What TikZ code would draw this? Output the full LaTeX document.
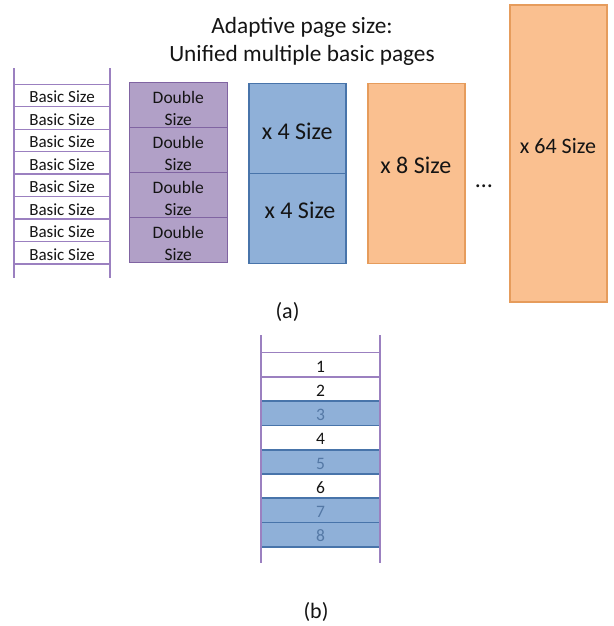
\documentclass[tikz,border=0pt]{standalone}
\usepackage{fontspec}
\setmainfont{Carlito}
\definecolor{plin}{RGB}{155,128,192}
\definecolor{pfill}{RGB}{177,160,199}
\definecolor{pdraw}{RGB}{128,100,162}
\definecolor{bfill}{RGB}{143,176,216}
\definecolor{bdraw}{RGB}{72,116,170}
\definecolor{ofill}{RGB}{250,192,144}
\definecolor{odraw}{RGB}{230,156,92}
\definecolor{bnum}{RGB}{84,120,165}
\definecolor{tx}{RGB}{20,20,20}
\tikzset{
  basicrow/.style={draw=plin, line width=1.4pt, inner sep=0pt, minimum width=96pt, minimum height=22.46pt, text height=15pt, font=\fontsize{17}{20}\selectfont, text=tx},
  dblbox/.style={draw=pdraw, fill=pfill, line width=1.2pt, inner sep=0pt, minimum width=98pt, minimum height=45pt},
  dbltxt/.style={align=center, inner sep=0pt, font=\fontsize{17.5}{21.7}\selectfont, text=tx},
  bluebox/.style={draw=bdraw, fill=bfill, line width=1.2pt, inner sep=0pt, minimum width=97pt, minimum height=90pt},
  orbox/.style={draw=odraw, fill=ofill, line width=1.2pt, inner sep=0pt, minimum width=97pt},
  bigtxt/.style={font=\fontsize{24}{28}\selectfont, text=tx, inner sep=0pt},
  brow/.style={draw=plin, line width=1.4pt, inner sep=0pt, minimum width=119pt, minimum height=24.25pt, text height=14.5pt, font=\fontsize{17.5}{21}\selectfont, text=tx},
  bbrow/.style={draw=bdraw, fill=bfill, line width=1.6pt, inner sep=0pt, minimum width=119pt, minimum height=24.25pt, text height=14.5pt, font=\fontsize{17.5}{21}\selectfont, text=bnum},
  vline/.style={draw=plin, line width=1.6pt},
  capt/.style={font=\fontsize{22}{26}\selectfont, text=tx, inner sep=0pt, anchor=base}
}
\begin{document}
\begin{tikzpicture}[x=1pt,y=-1pt]
\useasboundingbox (0,0) rectangle (613,626);
% title
\node[align=center, font=\fontsize{23.3}{28.4}\selectfont, text=tx, inner sep=0pt, anchor=base] (title) at (302,61.7) {Adaptive page size:\\Unified multiple basic pages};
% basic column
\coordinate (bt1) at (14,68); \coordinate (bb1) at (14,278);
\coordinate (bt2) at (110,68); \coordinate (bb2) at (110,278);
\foreach \i in {1,...,8}{
  \node[basicrow] (basic\i) at (62,{84.3+11.23+(\i-1)*22.46}) {Basic Size};
}
\draw[vline] (bt1) -- (bb1);
\draw[vline] (bt2) -- (bb2);
% double column
\foreach \i in {1,...,4}{
  \node[dblbox] (dbl\i) at (178.3,{82.7+22.5+(\i-1)*45}) {};
  \node[dbltxt, yshift=-3pt] (dblt\i) at (dbl\i.center) {Double\\Size};
}
% x4 column
\node[bluebox] (q1) at (297.5,128.3) {};
\node[bluebox] (q2) at (297.5,218.3) {};
\node[bigtxt] (q1t) at (297.2,131.7) {x 4 Size};
\node[bigtxt] (q2t) at (300,210.5) {x 4 Size};
% x8
\node[orbox, minimum height=180pt] (e8) at (416.5,173.3) {};
\node[bigtxt] (e8t) at (415.8,165.7) {x 8 Size};
% dots
\node[font=\fontsize{24}{28}\selectfont, text=tx, inner sep=0pt, anchor=base] (dots) at (484,187) {…};
% x64
\node[orbox, minimum height=297pt] (e64) at (558.5,153.5) {};
\node[bigtxt, font=\fontsize{22}{26}\selectfont] (e64t) at (558,145.7) {x 64 Size};
% caption a
\node[capt] (capa) at (287.5,318) {(a)};
% part b
\foreach \i in {1,2,4,6}{
  \node[brow] (r\i) at (320.5,{352.7+12.125+(\i-1)*24.25}) {\i};
}
\foreach \i in {3,5,7,8}{
  \node[bbrow] (r\i) at (320.5,{352.7+12.125+(\i-1)*24.25}) {\i};
}
\coordinate (lt1) at (261,335); \coordinate (lb1) at (261,563);
\coordinate (lt2) at (380,335); \coordinate (lb2) at (380,563);
\draw[vline] (lt1) -- (lb1);
\draw[vline] (lt2) -- (lb2);
\node[capt] (capb) at (316,618.3) {(b)};
\end{tikzpicture}
\end{document}
